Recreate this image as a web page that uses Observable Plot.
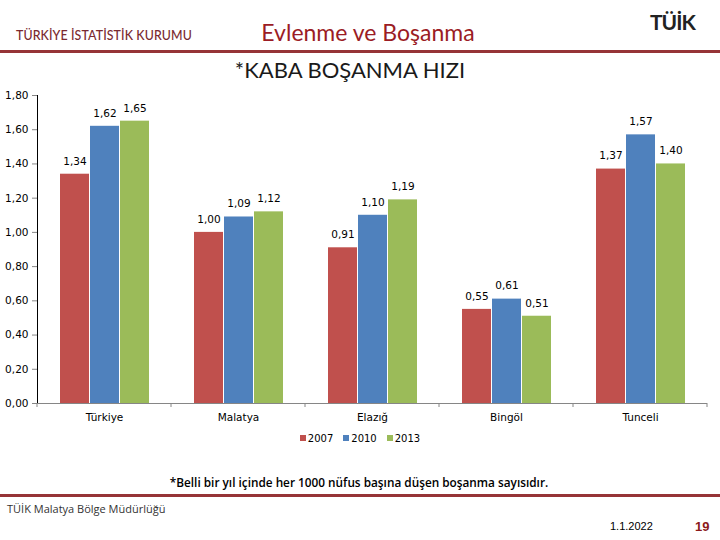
<!DOCTYPE html>
<html>
<head>
<meta charset="utf-8">
<script src="https://cdn.jsdelivr.net/npm/d3@7"></script>
<script src="https://cdn.jsdelivr.net/npm/@observablehq/plot@0.6"></script>
<style>
  html, body { margin: 0; padding: 0; background: #fff; }
  #page { position: relative; width: 720px; height: 540px; overflow: hidden; background: #fff; }
  .abs { position: absolute; white-space: nowrap; }
  #org { left: 16px; top: 28px; font: 500 12.4px "Lato", sans-serif; color: #7a2a30; letter-spacing: 0.1px; }
  #title { left: 0; width: 736px; text-align: center; top: 18px; font: 400 23px "Lato", sans-serif; color: #9b1c24; }
  #logo { left: 650px; top: 9px; font: 700 21px "Lato", sans-serif; color: #222; letter-spacing: -1px; }
  .redline { position: absolute; left: 0; width: 720px; height: 3px; background: #963437; }
  #subtitle { left: 0; width: 700px; text-align: center; top: 56px; font: 400 22px "Lato", sans-serif; color: #1a1a1a; }
  #chart { position: absolute; left: 0; top: 85px; }
  #chart g[aria-label^="y-axis"] line, #chart g[aria-label^="y-axis"] path { stroke: #868686; }
  #legend { left: 0; width: 720px; top: 433px; text-align: center; font: 10px "DejaVu Sans", sans-serif; color: #000; }
  #legend span.item { display: inline-block; margin: 0 5px; }
  #legend span.sw { display: inline-block; width: 6px; height: 6px; margin-right: 2px; vertical-align: 1px; }
  #note { left: 0; width: 718px; text-align: center; top: 474px; font: 600 11.8px "Open Sans", sans-serif; color: #000; }
  #footer { left: 7px; top: 501px; font: 400 11px "Open Sans", sans-serif; color: #333; }
  #date { left: 610px; top: 520px; font: 400 11px "Liberation Sans Narrow", "Liberation Sans", sans-serif; color: #000; }
  #pageno { left: 695px; top: 519px; font: 700 13px "Liberation Sans", sans-serif; color: #8b1a1a; }
</style>
</head>
<body>
<div id="page">
  <div id="org" class="abs">TÜRKİYE İSTATİSTİK KURUMU</div>
  <div id="title" class="abs">Evlenme ve Boşanma</div>
  <div id="logo" class="abs">TÜİK</div>
  <div class="redline" style="top:50px"></div>
  <div id="subtitle" class="abs">*KABA BOŞANMA HIZI</div>
  <div id="chart"></div>
  <div id="legend" class="abs"></div>
  <div id="note" class="abs">*Belli bir yıl içinde her 1000 nüfus başına düşen boşanma sayısıdır.</div>
  <div class="redline" style="top:494px"></div>
  <div id="footer" class="abs">TÜİK Malatya Bölge Müdürlüğü</div>
  <div id="date" class="abs">1.1.2022</div>
  <div id="pageno" class="abs">19</div>
</div>
<script>
const categories = ["Türkiye", "Malatya", "Elazığ", "Bingöl", "Tunceli"];
const years = ["2007", "2010", "2013"];
const colors = ["#c0504d", "#4f81bd", "#9bbb59"];
const values2007 = [1.34, 1.00, 0.91, 0.55, 1.37];
const values2010 = [1.62, 1.09, 1.10, 0.61, 1.57];
const values2013 = [1.65, 1.12, 1.19, 0.51, 1.40];
const yTicks = [0, 0.2, 0.4, 0.6, 0.8, 1.0, 1.2, 1.4, 1.6, 1.8];

const series = [values2007, values2010, values2013];
const data = [];
categories.forEach((c, i) => {
  years.forEach((y, j) => data.push({category: c, year: y, value: series[j][i]}));
});

const fmt = v => v.toFixed(2).replace(".", ",");

const plot = Plot.plot({
  width: 720,
  height: 345,
  marginTop: 10,
  marginBottom: 27,
  marginLeft: 37,
  marginRight: 13,
  style: {fontFamily: "DejaVu Sans, sans-serif", fontSize: "10.5px", color: "#000", background: "transparent", overflow: "visible"},
  facet: {data, x: "category"},
  fx: {domain: categories, padding: 0, tickSize: 0, tickPadding: 10, label: null},
  x: {domain: years, axis: null, paddingInner: 1/30, paddingOuter: 0.75},
  y: {domain: [0, 1.8], ticks: yTicks, tickFormat: fmt, tickSize: 5, tickPadding: 4, line: true, label: null},
  color: {domain: years, range: colors},
  marks: [
    Plot.barY(data, {x: "year", y: "value", fill: "year"}),
    Plot.text(data, {x: "year", y: "value", text: d => fmt(d.value), dy: -13, fill: "#000"}),
    Plot.ruleY([0], {stroke: "#868686"})
  ]
});
document.getElementById("chart").appendChild(plot);

// category boundary ticks on the x axis, computed from the fx scale
const fxs = plot.scale("fx");
const [r0, r1] = fxs.range;
const step = (r1 - r0) / fxs.domain.length;
const y0 = plot.scale("y").range[0];
const svg = d3.select(plot.tagName.toLowerCase() === "svg" ? plot : plot.querySelector("svg"));
svg.append("g").selectAll("line")
  .data(d3.range(fxs.domain.length + 1))
  .join("line")
  .attr("x1", i => r0 + i * step).attr("x2", i => r0 + i * step)
  .attr("y1", y0).attr("y2", y0 + 4)
  .attr("stroke", "#868686");

// legend
const legend = document.getElementById("legend");
years.forEach((y, i) => {
  const item = document.createElement("span");
  item.className = "item";
  item.innerHTML = `<span class="sw" style="background:${colors[i]}"></span>${y}`;
  legend.appendChild(item);
});
</script>
</body>
</html>
